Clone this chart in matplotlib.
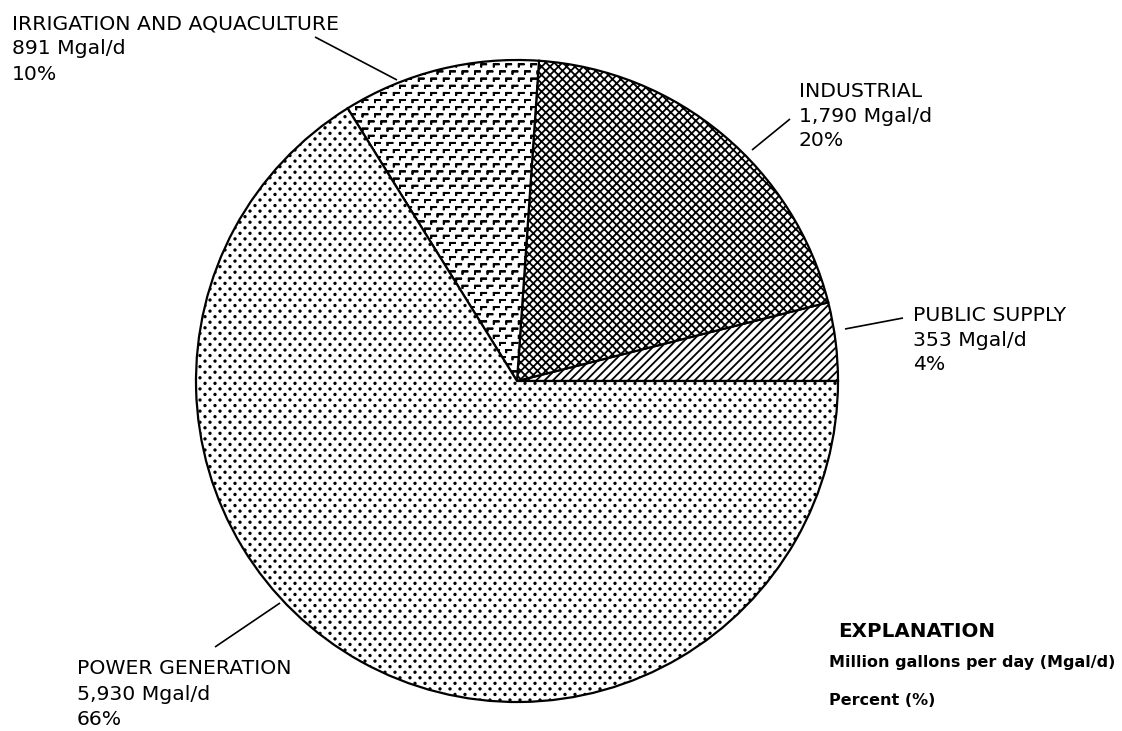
import numpy as np
import matplotlib
matplotlib.use("Agg")
import matplotlib.pyplot as plt
import matplotlib.hatch as mhatch
from matplotlib.path import Path

# ---- data ----
categories = ["PUBLIC SUPPLY", "INDUSTRIAL", "IRRIGATION AND AQUACULTURE", "POWER GENERATION"]
mgal_d = [353, 1790, 891, 5930]
mgal_labels = ["353 Mgal/d", "1,790 Mgal/d", "891 Mgal/d", "5,930 Mgal/d"]
percent_labels = ["4%", "20%", "10%", "66%"]
hatches = ["////", "xxxx", "*", "."]


# ---- custom hatch textures (staggered lattices of small shapes) ----
class _LatticeBase(mhatch.HatchPatternBase):
    char = None
    nx = 10
    ny = 18
    shape_vertices = np.zeros((0, 2))
    shape_codes = np.zeros(0, dtype=Path.code_type)

    def __init__(self, hatch, density):
        if self.char in hatch:
            pts = []
            for j in range(self.ny + 1):
                y = j / self.ny
                if j % 2 == 0:
                    xs = np.arange(self.nx + 1) / self.nx
                else:
                    xs = (np.arange(self.nx) + 0.5) / self.nx
                for x in xs:
                    pts.append((x, y))
            self.pts = np.array(pts)
            self.num_vertices = len(self.pts) * len(self.shape_vertices)
        else:
            self.pts = None
            self.num_vertices = 0

    def set_vertices_and_codes(self, vertices, codes):
        allv = (self.pts[:, None, :] + self.shape_vertices[None, :, :]).reshape(-1, 2)
        vertices[:] = allv
        codes[:] = np.tile(self.shape_codes, len(self.pts))


_circ = Path.unit_circle()


class DotLattice(_LatticeBase):
    char = '.'
    nx = 10
    ny = 18
    shape_vertices = _circ.vertices * 0.0075
    shape_codes = _circ.codes.astype(Path.code_type)


class CornerLattice(_LatticeBase):
    char = '*'
    nx = 8
    ny = 14
    shape_vertices = np.array([[0.0, -0.022], [0.0, 0.0], [0.022, 0.0],
                               [0.0, 0.0], [0.0, -0.022]])
    shape_codes = np.array([Path.MOVETO, Path.LINETO, Path.LINETO,
                            Path.LINETO, Path.LINETO], dtype=Path.code_type)


try:
    new_types = []
    for t in mhatch._hatch_types:
        if t is mhatch.SmallFilledCircles:
            new_types.append(DotLattice)
        elif t is mhatch.Stars:
            new_types.append(CornerLattice)
        else:
            new_types.append(t)
    mhatch._hatch_types = new_types
except Exception:
    hatches[2] = ".."
    hatches[3] = "..."

plt.rcParams['hatch.linewidth'] = 1.3
plt.rcParams['font.family'] = ['DejaVu Sans']

W, H = 1122, 731
fig = plt.figure(figsize=(W / 100, H / 100), dpi=100)
ax = fig.add_axes([0, 0, 1, 1])


def Y(py):
    return H - py


wedges, _ = ax.pie(mgal_d, startangle=0, counterclock=True,
                   center=(517, Y(381)), radius=321,
                   colors=["white"] * 4,
                   wedgeprops=dict(edgecolor="black", linewidth=1.6))
for w, h in zip(wedges, hatches):
    w.set_hatch(h)

ax.set_xlim(0, W)
ax.set_ylim(0, H)
ax.set_aspect('equal')
ax.axis('off')

# ---- labels ----
fs = 14.7
label_pos = {
    0: (913, 321, 24.5),
    1: (799, 97, 24.5),
    2: (12, 29, 25.5),
    3: (77, 674, 25.5),
}
for i, (x, yb, step) in label_pos.items():
    lines = [categories[i], mgal_labels[i], percent_labels[i]]
    for k, s in enumerate(lines):
        ax.text(x, Y(yb + k * step), s, fontsize=fs, ha='left', va='baseline',
                color='black')

# leader lines (layout)
leaders = [((845, 329), (903, 318)),
           ((752, 150), (790, 119)),
           ((397, 80), (315, 37)),
           ((280, 603), (215, 647))]
for (x0, y0), (x1, y1) in leaders:
    ax.plot([x0, x1], [Y(y0), Y(y1)], color='black', lw=1.2, solid_capstyle='butt')

# ---- explanation ----
ax.text(917, Y(637), "EXPLANATION", fontsize=14.3, fontweight='bold',
        ha='center', va='baseline')
ax.text(829, Y(667), "Million gallons per day (Mgal/d)", fontsize=11.5,
        fontweight='bold', ha='left', va='baseline')
ax.text(829, Y(705), "Percent (%)", fontsize=11.5, fontweight='bold',
        ha='left', va='baseline')

fig.savefig("out.png", dpi=100, facecolor='white')
